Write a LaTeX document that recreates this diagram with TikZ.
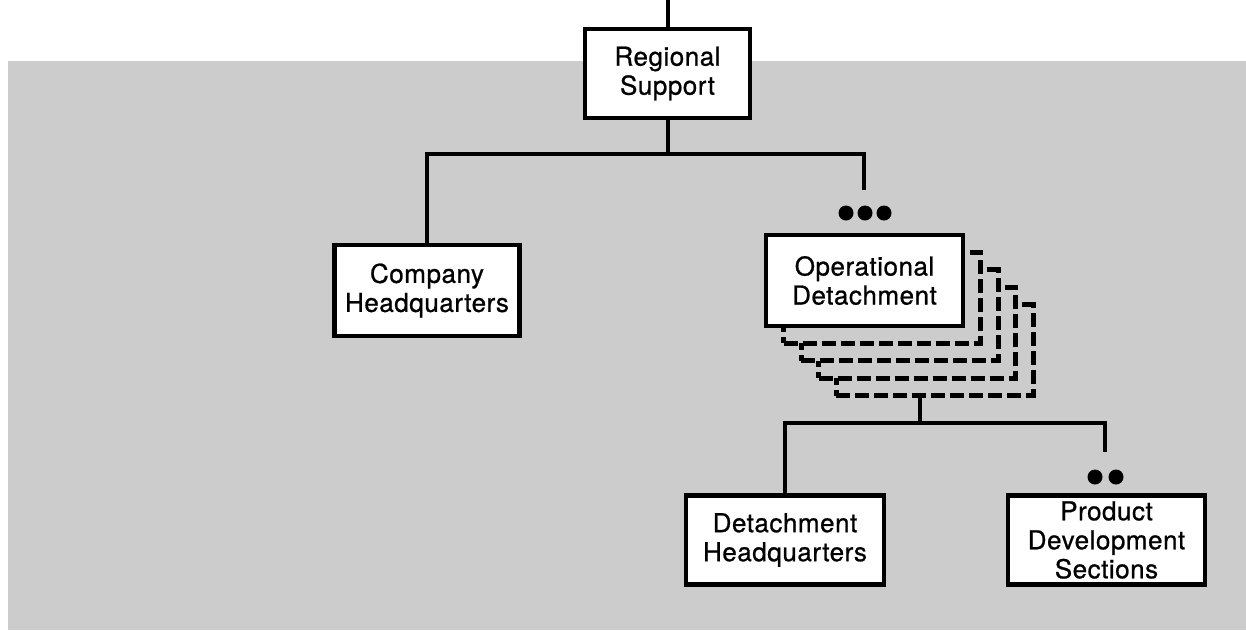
\documentclass[tikz,border=0pt]{standalone}
\usepackage{fontspec}
\setmainfont{TeX Gyre Heros}[LetterSpace=2,FakeBold=0.8]
\definecolor{bggray}{gray}{0.80}
\tikzset{
  box/.style={draw=black, line width=4.5pt, fill=white, rectangle, align=center,
    inner sep=0pt, font=\fontsize{26}{29}\selectfont},
  ghost/.style={draw=black, line width=5pt, fill=bggray, rectangle,
    dash pattern=on 14pt off 5pt, minimum width=197pt, minimum height=91pt},
  link/.style={draw=black, line width=4pt},
  dot/.style={circle, fill=black, inner sep=0pt, minimum size=15pt}
}
\begin{document}
\begin{tikzpicture}[x=1pt,y=-1pt]
\useasboundingbox (0,0) rectangle (1246,630);
\fill[bggray] (8,61) rectangle (1246,630);
% top level
\coordinate (top) at (667.5,0);
\node[box, minimum width=165pt, minimum height=89pt] (rs) at (667.5,73.5) {Regional\\Support};
\draw[link] (top) -- (rs.north);
\coordinate (j1) at (667.5,154);
\coordinate (cl) at (427,154);
\coordinate (cr) at (864,154);
\coordinate (crend) at (864,190);
\draw[link] (rs.south) -- (j1);
\node[box, minimum width=185pt, minimum height=91pt] (chq) at (427,290.5) {Company\\Headquarters};
\draw[link] (chq.north) -- (cl) -- (cr) -- (crend);
\node[dot] (a1) at (846,213) {};
\node[dot] (a2) at (865,213) {};
\node[dot] (a3) at (884,213) {};
% stacked detachments
\node[ghost] (d4) at (934.5,350) {};
\node[ghost] (d3) at (917,332.5) {};
\node[ghost] (d2) at (899.5,315) {};
\node[ghost] (d1) at (882,297.5) {};
\node[box, minimum width=197pt, minimum height=91pt] (od) at (864.5,280.5) {Operational\\Detachment};
% lower level
\coordinate (j2) at (920,423);
\coordinate (dl) at (785,423);
\coordinate (dr) at (1105,423);
\coordinate (drend) at (1105,452);
\draw[link] (d4.south -| j2) -- (j2);
\node[box, minimum width=198pt, minimum height=89pt] (dhq) at (785,540) {Detachment\\Headquarters};
\draw[link] (dhq.north) -- (dl) -- (dr) -- (drend);
\node[dot] (b1) at (1095,477) {};
\node[dot] (b2) at (1116,477) {};
\node[box, minimum width=197pt, minimum height=89pt] (pds) at (1106.5,540) {Product\\Development\\Sections};
\end{tikzpicture}
\end{document}
